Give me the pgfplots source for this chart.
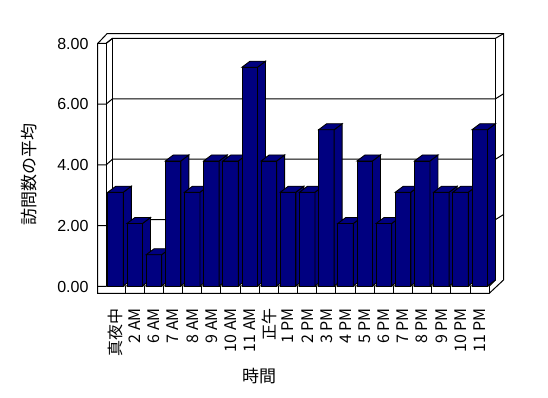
\documentclass[border=0pt]{standalone}
\usepackage{fontspec}
\setmainfont{Liberation Sans}
\newfontfamily\cjk{Noto Sans CJK JP}
\usepackage{pgfplots}
\usepackage{pgfplotstable}
\pgfplotsset{compat=1.18}
\definecolor{barnavy}{RGB}{0,0,128}

\pgfplotstableread{
x v
0 3
1 2
2 1
3 4
4 3
5 4
6 4
7 7
8 4
9 3
10 3
11 5
12 2
13 4
14 2
15 3
16 4
17 3
18 3
19 5
}\visits

\pgfdeclareplotmark{bar3d}{%
  \pgfmathsetmacro\bh{\barval*31.25}%
  \pgfsetfillcolor{barnavy}\pgfsetstrokecolor{black}%
  \pgfsetlinewidth{0.9bp}%
  \pgfpathrectanglecorners{\pgfpoint{-7.75bp}{-\bh bp}}{\pgfpoint{7.75bp}{0bp}}%
  \pgfusepath{fill,stroke}%
  \pgfpathmoveto{\pgfpoint{7.75bp}{0bp}}%
  \pgfpathlineto{\pgfpoint{15.75bp}{6bp}}%
  \pgfpathlineto{\pgfpoint{15.75bp}{6bp-\bh bp}}%
  \pgfpathlineto{\pgfpoint{7.75bp}{-\bh bp}}%
  \pgfpathclose
  \pgfusepath{fill,stroke}%
  \pgfpathmoveto{\pgfpoint{-7.75bp}{0bp}}%
  \pgfpathlineto{\pgfpoint{0.25bp}{6bp}}%
  \pgfpathlineto{\pgfpoint{15.75bp}{6bp}}%
  \pgfpathlineto{\pgfpoint{7.75bp}{0bp}}%
  \pgfpathclose
  \pgfusepath{fill,stroke}%
}

\begin{document}
\begin{tikzpicture}
\useasboundingbox (0,0) rectangle (548bp,398bp);
% frame (pixel coordinates, y down)
\begin{scope}[x=1bp,y=-1bp,shift={(0,398bp)},line width=1bp,line join=miter]
  \draw (97.7,293.3) -- (97.7,43.5) -- (107,33.7) -- (503.5,33.7) -- (503.5,280) -- (489.3,293.3) -- cycle;
  \draw (97.7,43.5) -- (106,43.5) -- (106,286);
  \draw (106,43.5) -- (112.5,38.3);
  \draw (112.5,38.3) rectangle (495.5,280);
  \draw (495.5,38.3) -- (503.5,33.7);
  \draw (106,286) -- (489.3,286) -- (495.5,280);
  \draw (489.3,286) -- (489.3,293.3);
  \foreach \k in {1,...,19} {\draw ({106+19.165*\k},286) -- ({106+19.165*\k},293.3);}
  \foreach \v in {0,2,4,6,8} {\draw (97.7,{286.5-30.375*\v}) -- (106,{286.5-30.375*\v}) -- (112.5,{280-30.2*\v}) -- (495.5,{280-30.2*\v});}
  \foreach \v in {2,4,6} {\draw (495.5,{280-30.2*\v}) -- (503.5,{275-30.2*\v});}
\end{scope}
% labels axis
\begin{axis}[
  at={(106bp,111.5bp)}, anchor=south west, scale only axis,
  x=19.165bp, y=30.375bp,
  xmin=-0.5, xmax=19.5, ymin=0, ymax=8,
  axis line style={draw=none}, major tick length=0pt,
  xtick={0,...,19},
  xticklabels={真夜中,2 AM,6 AM,7 AM,8 AM,9 AM,10 AM,11 AM,正午,1 PM,2 PM,3 PM,4 PM,5 PM,6 PM,7 PM,8 PM,9 PM,10 PM,11 PM},
  xticklabel style={font=\cjk\fontsize{16bp}{18bp}\selectfont, rotate=90, anchor=east},
  xticklabel shift=18bp,
  ytick={0,2,4,6,8},
  yticklabel style={font=\fontsize{16bp}{18bp}\selectfont, anchor=east,
    /pgf/number format/.cd, fixed, fixed zerofill, precision=2, assume math mode=true},
  yticklabel shift=14bp,
  xlabel={時間}, ylabel={訪問数の平均},
  label style={font=\cjk\fontsize{17bp}{19bp}\selectfont},
  xlabel style={at={(axis description cs:0.3995,-0.368)}, anchor=center},
  ylabel style={at={(axis description cs:-0.201,0.459)}, anchor=center, rotate=0},
]
\addplot[draw=none] coordinates {(0,0)};
\end{axis}
% bars axis
\begin{axis}[
  at={(106bp,112bp)}, anchor=south west, scale only axis,
  x=19.165bp, y=31.25bp,
  xmin=-0.5, xmax=19.5, ymin=0, ymax=8,
  hide axis, clip=false,
]
\addplot[only marks, mark=bar3d, visualization depends on={\thisrow{v} \as \barval}] table[x=x, y=v] {\visits};
\end{axis}
\end{tikzpicture}
\end{document}
